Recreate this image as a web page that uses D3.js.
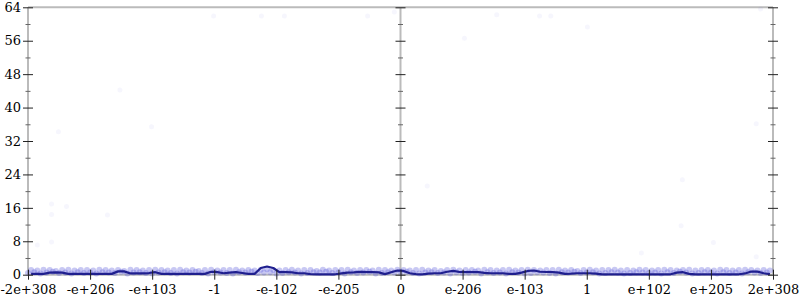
<!DOCTYPE html>
<html>
<head>
<meta charset="utf-8">
<script src="https://cdn.jsdelivr.net/npm/d3@7"></script>
<style>
body { margin: 0; background: #fff; }
text { font-family: "DejaVu Serif", serif; font-size: 13px; fill: #000; }
</style>
</head>
<body>
<svg></svg>
<script>
// x is an ordinal position over the float range, -6 .. 6
let xTicks = [-6, -5, -4, -3, -2, -1, 0, 1, 2, 3, 4, 5, 6]
let xLabels = ['-2e+308', '-e+206', '-e+103', '-1', '-e-102', '-e-205', '0', 'e-206', 'e-103', '1', 'e+102', 'e+205', '2e+308']
let yMajor = [0, 8, 16, 24, 32, 40, 48, 56, 64]
let yMinor = [4, 12, 20, 28, 36, 44, 52, 60]

// histogram line, 120 bins across the range
let lineValues = [
    0.2, 0.2, 0.2, 0.5, 0.55, 0.5, 0.2, 0.2, 0.2, 0.2,
    0.2, 0.2, 0.2, 0.2, 0.8, 0.8, 0.3, 0.3, 0.3, 0.4,
    0.6, 0.2, 0.2, 0.2, 0.2, 0.2, 0.2, 0.2, 0.2, 0.7,
    0.6, 0.35, 0.5, 0.6, 0.4, 0.2, 0.2, 1.6, 1.95, 1.6,
    0.6, 0.6, 0.55, 0.35, 0.35, 0.15, 0.1, 0.1, 0.1, 0.1,
    0.3, 0.5, 0.55, 0.67, 0.6, 0.6, 0.55, 0.15, 0.6, 1.0,
    0.9, 0.35, 0.15, 0.1, 0.25, 0.35, 0.35, 0.7, 0.9, 0.65,
    0.6, 0.6, 0.6, 0.45, 0.35, 0.35, 0.35, 0.2, 0.2, 0.5,
    0.9, 1.0, 0.7, 0.65, 0.6, 0.5, 0.2, 0.25, 0.35, 0.35,
    0.35, 0.25, 0.1, 0.1, 0.1, 0.1, 0.1, 0.1, 0.1, 0.1,
    0.1, 0.1, 0.1, 0.1, 0.5, 0.6, 0.2, 0.1, 0.1, 0.1,
    0.1, 0.1, 0.1, 0.1, 0.1, 0.3, 0.75, 0.75, 0.35, 0.15
]

// dense sample points near zero (two rows)
let bandA = [
    1.1, 1.0, 1.2, 1.1, 0.9, 1.1, 1.2, 1.0, 1.1, 1.1,
    1.0, 1.2, 1.1, 1.0, 1.1, 0.9, 1.2, 1.1, 1.0, 1.1,
    1.2, 1.1, 1.0, 1.1, 1.2, 1.0, 1.1, 0.9, 1.1, 1.2,
    1.0, 1.1, 1.1, 1.2, 1.0, 1.1, 1.0, 1.2, 1.3, 1.1,
    1.0, 1.1, 1.2, 1.0, 1.1, 1.1, 0.9, 1.2, 1.0, 1.1,
    1.1, 1.2, 1.0, 1.1, 1.1, 1.0, 1.2, 1.1, 1.0, 1.2,
    1.1, 1.0, 1.1, 1.2, 1.0, 1.1, 0.9, 1.1, 1.2, 1.0,
    1.1, 1.1, 1.0, 1.2, 1.1, 1.0, 1.1, 1.2, 1.0, 1.1,
    1.2, 1.1, 1.0, 1.1, 1.1, 1.2, 1.0, 1.1, 0.9, 1.1,
    1.2, 1.0, 1.1, 1.1, 1.2, 1.0, 1.1, 1.0, 1.2, 1.1,
    1.0, 1.1, 1.2, 1.1, 1.0, 1.1, 1.2, 1.0, 1.1, 1.1,
    1.0, 1.2, 1.1, 1.0, 1.1, 1.2, 1.1, 1.0, 1.1, 1.0
]
let bandB = [
    0.4, 0.6, 0.3, 0.5, 0.7, 0.4, 0.5, 0.3, 0.6, 0.4,
    0.5, 0.3, 0.6, 0.5, 0.4, 0.7, 0.3, 0.5, 0.6, 0.4,
    0.3, 0.5, 0.6, 0.4, 0.3, 0.6, 0.5, 0.7, 0.4, 0.3,
    0.6, 0.5, 0.4, 0.3, 0.6, 0.5, 0.7, 0.4, 0.5, 0.6,
    0.3, 0.4, 0.6, 0.5, 0.3, 0.4, 0.6, 0.5, 0.7, 0.4,
    0.5, 0.3, 0.6, 0.4, 0.5, 0.7, 0.3, 0.4, 0.6, 0.5,
    0.6, 0.7, 0.4, 0.3, 0.5, 0.6, 0.4, 0.5, 0.3, 0.6,
    0.4, 0.5, 0.7, 0.3, 0.6, 0.4, 0.5, 0.3, 0.6, 0.5,
    0.3, 0.4, 0.6, 0.5, 0.4, 0.3, 0.6, 0.5, 0.7, 0.4,
    0.5, 0.6, 0.3, 0.4, 0.6, 0.5, 0.3, 0.4, 0.6, 0.5,
    0.4, 0.5, 0.3, 0.6, 0.4, 0.7, 0.5, 0.3, 0.4, 0.6,
    0.5, 0.3, 0.6, 0.4, 0.5, 0.3, 0.6, 0.5, 0.4, 0.5
]

// rare outlier samples, barely visible
let outlierU = [-5.51, -4.52, -4.01, -5.62, -5.62, -5.38, -5.85, -5.62, -4.72, -0.53, -0.10, -3.01, -2.24, -1.87, 1.55, 2.24, 2.42, 3.01, 1.03, 4.52, 5.04, 3.88, 5.73, 5.80, 5.73, 4.54, 0.43]
let outlierV = [34.2, 44.2, 35.4, 16.9, 14.4, 16.3, 7.1, 7.8, 14.3, 61.9, 62.9, 61.9, 61.9, 61.9, 62.2, 61.9, 61.9, 59.3, 56.6, 11.7, 7.7, 5.2, 4.3, 63.6, 36.1, 22.7, 21.2]

let width = 800
let height = 300
let plotLeft = 28
let plotRight = 773
let plotTop = 7.3
let plotBottom = 274.7

let svg = d3.select('svg')
    .attr('width', width)
    .attr('height', height)

let xScale = d3.scaleLinear().domain([-6, 6]).range([plotLeft, plotRight])
let yScale = d3.scaleLinear().domain([0, 64]).range([plotBottom, plotTop])

let binWidth = 12 / lineValues.length
let binCenter = (i) => -6 + binWidth * (i + 0.5)

// frame lines (grey)
let frame = svg.append('g')
frame.append('line')
    .attr('x1', xScale(-6)).attr('x2', xScale(6))
    .attr('y1', yScale(64)).attr('y2', yScale(64))
    .attr('stroke', '#bbb').attr('stroke-width', 2)
frame.append('line')
    .attr('x1', xScale(-6)).attr('x2', xScale(6))
    .attr('y1', yScale(0)).attr('y2', yScale(0))
    .attr('stroke', '#bbb').attr('stroke-width', 2)
;[-6, 0, 6].forEach((u) => {
    frame.append('line')
        .attr('x1', xScale(u)).attr('x2', xScale(u))
        .attr('y1', yScale(64)).attr('y2', yScale(0))
        .attr('stroke', '#bbb').attr('stroke-width', 2)
})

// points
let dots = svg.append('g')
dots.selectAll('.outlier')
    .data(outlierU)
    .enter()
    .append('circle')
    .attr('class', 'outlier')
    .attr('r', 2.5)
    .attr('cx', (d) => xScale(d))
    .attr('cy', (d, i) => yScale(outlierV[i]))
    .attr('fill', '#5555dd')
    .attr('fill-opacity', 0.05)

dots.selectAll('.bandA')
    .data(bandA)
    .enter()
    .append('circle')
    .attr('class', 'bandA')
    .attr('r', 3)
    .attr('cx', (d, i) => xScale(binCenter(i)))
    .attr('cy', (d) => yScale(d))
    .attr('fill', '#4a4ad8')
    .attr('fill-opacity', 0.3)

dots.selectAll('.bandB')
    .data(bandB)
    .enter()
    .append('circle')
    .attr('class', 'bandB')
    .attr('r', 3)
    .attr('cx', (d, i) => xScale(binCenter(i) - binWidth / 2))
    .attr('cy', (d) => yScale(d))
    .attr('fill', '#4a4ad8')
    .attr('fill-opacity', 0.3)

// histogram line
let line = d3.line()
    .x((d, i) => xScale(binCenter(i)))
    .y((d) => yScale(d))

svg.append('path')
    .datum(lineValues)
    .attr('d', line)
    .attr('fill', 'none')
    .attr('stroke', '#1f1f8e')
    .attr('stroke-width', 2.2)
    .attr('stroke-linejoin', 'round')

// y ticks on the three vertical axes
let makeYAxis = (u, withLabels) => {
    let major = d3.axisLeft(yScale)
        .tickValues(yMajor)
        .tickSize(10)
        .tickPadding(2)
        .tickFormat(withLabels ? d3.format('d') : () => '')
    let g = svg.append('g')
        .attr('transform', 'translate(' + (xScale(u) + 5) + ',0)')
        .call(major)
    g.select('.domain').remove()
    g.selectAll('.tick line').attr('stroke', '#222')
    g.selectAll('.tick text').style('font-family', '"DejaVu Serif", serif').style('font-size', '13px')

    let minor = d3.axisLeft(yScale)
        .tickValues(yMinor)
        .tickSize(5)
        .tickFormat(() => '')
    let m = svg.append('g')
        .attr('transform', 'translate(' + (xScale(u) + 2.5) + ',0)')
        .call(minor)
    m.select('.domain').remove()
    m.selectAll('.tick line').attr('stroke', '#666')
}
makeYAxis(-6, true)
makeYAxis(0, false)
makeYAxis(6, false)

// x axis
let xAxis = d3.axisBottom(xScale)
    .tickValues(xTicks)
    .tickSize(10)
    .tickPadding(5)
    .tickFormat((d, i) => xLabels[i])
let gx = svg.append('g')
    .attr('transform', 'translate(0,' + (yScale(0) - 5) + ')')
    .call(xAxis)
gx.select('.domain').remove()
gx.selectAll('.tick line').attr('stroke', '#222')
gx.selectAll('.tick text').style('font-family', '"DejaVu Serif", serif').style('font-size', '13px')
</script>
</body>
</html>
